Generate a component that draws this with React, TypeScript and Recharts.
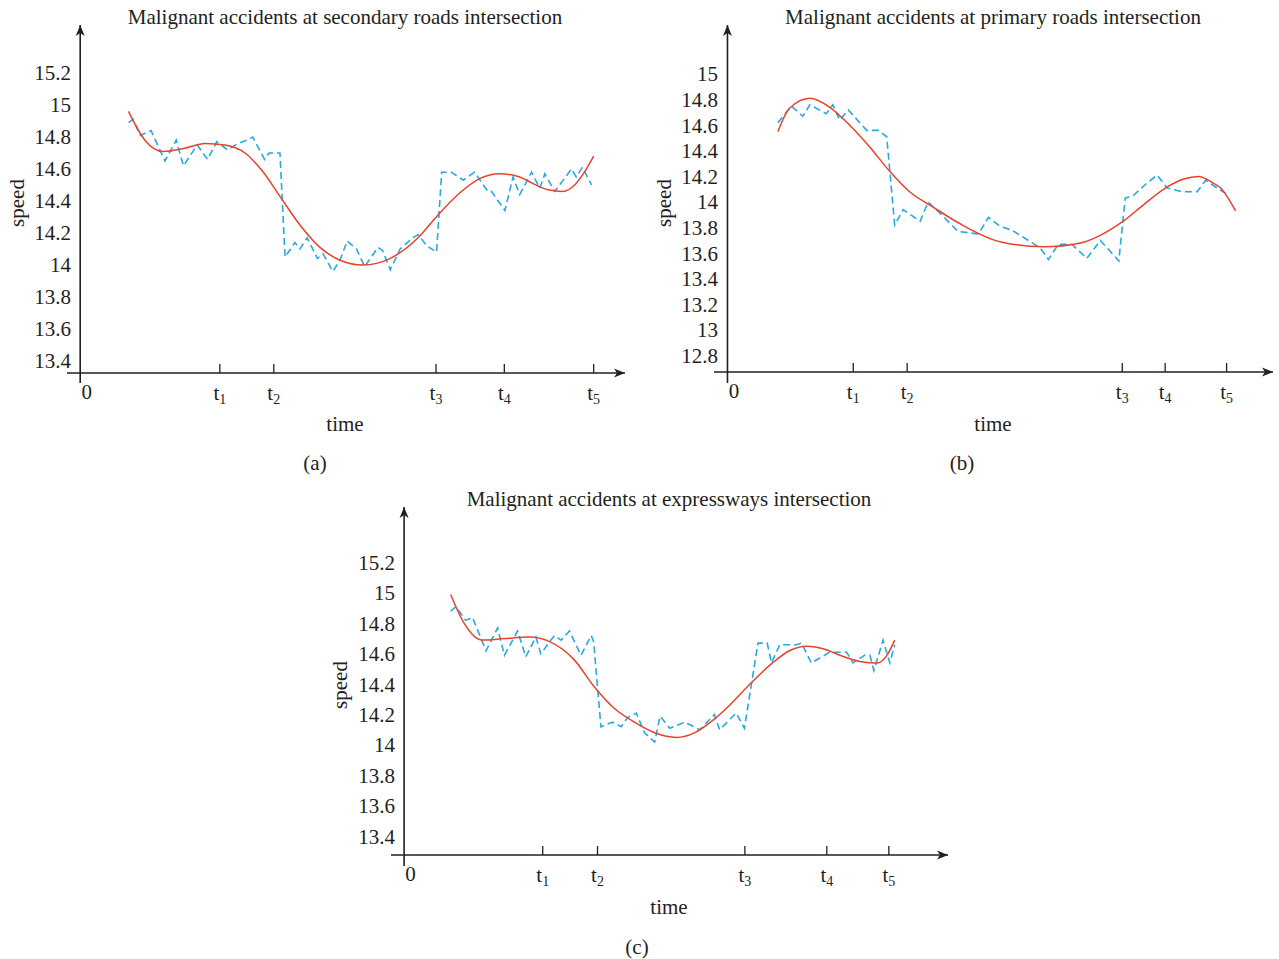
import React from "react";
import { LineChart, Line, XAxis, YAxis, ReferenceLine, ReferenceDot } from "recharts";

const INK = "#231f20";
const BLUE = "#27a9e1";
const RED = "#e8412c";
const FONT = '"Liberation Serif", "Times New Roman", serif';

// shared x tick labels (0, t1 ... t5)
const xTickLabels = ["0", "1", "2", "3", "4", "5"];

// (a) secondary roads
const aTitle = "Malignant accidents at secondary roads intersection";
const aXTicks = [0, 27.2, 37.7, 69.3, 82.6, 100];
const aYTicks = [13.4, 13.6, 13.8, 14, 14.2, 14.4, 14.6, 14.8, 15, 15.2];
const aNoisyTime = [9.4, 10.3, 11.7, 13.8, 16.5, 18.7, 20.1, 22.8, 24.8, 26.6, 28.7, 30.8, 32.4, 33.6, 35.9, 36.8, 38.9, 39.9, 41.8, 42.8, 44.2, 46.2, 47.3, 49.2, 50.6, 52.0, 53.8, 55.4, 58.0, 58.9, 60.4, 62.3, 64.8, 65.8, 67.5, 69.4, 70.4, 72.3, 74.6, 76.8, 79.4, 80.1, 82.7, 84.3, 85.6, 87.9, 89.5, 90.5, 92.4, 95.7, 96.6, 97.8, 99.6];
const aNoisySpeed = [14.89, 14.91, 14.81, 14.84, 14.65, 14.78, 14.62, 14.75, 14.66, 14.77, 14.72, 14.76, 14.78, 14.8, 14.66, 14.7, 14.7, 14.05, 14.14, 14.1, 14.17, 14.04, 14.07, 13.96, 14.03, 14.15, 14.1, 13.99, 14.11, 14.09, 13.97, 14.1, 14.17, 14.19, 14.12, 14.08, 14.58, 14.58, 14.53, 14.58, 14.46, 14.46, 14.34, 14.55, 14.44, 14.58, 14.48, 14.57, 14.46, 14.6, 14.55, 14.61, 14.5];
const aFitTime = [9.4, 12.6, 16.1, 20.4, 24.3, 28.2, 32.1, 35.4, 39.3, 42.8, 46.7, 50.6, 55.1, 60.3, 65.8, 69.6, 73.9, 77.8, 81.7, 85.6, 88.1, 91.1, 94.0, 96.3, 98.2, 100];
const aFitSpeed = [14.96, 14.78, 14.71, 14.73, 14.76, 14.75, 14.7, 14.59, 14.41, 14.25, 14.11, 14.03, 14.0, 14.04, 14.17, 14.31, 14.45, 14.54, 14.57, 14.55, 14.51, 14.47, 14.46, 14.5, 14.58, 14.68];

// (b) primary roads
const bTitle = "Malignant accidents at primary roads intersection";
const bXTicks = [0, 25.2, 36.0, 79.1, 87.7, 100];
const bYTicks = [12.8, 13, 13.2, 13.4, 13.6, 13.8, 14, 14.2, 14.4, 14.6, 14.8, 15];
const bNoisyTime = [10.1, 12.8, 15.1, 16.5, 19.8, 21.1, 22.5, 24.2, 27.9, 30.2, 31.9, 33.5, 35.2, 38.6, 40.2, 42.9, 46.2, 50.3, 52.3, 54.6, 57.0, 62.7, 64.3, 66.3, 69.0, 72.0, 74.7, 78.4, 79.7, 81.3, 84.1, 86.1, 88.1, 91.1, 94.1, 95.8, 98.1, 100.5];
const bNoisySpeed = [14.62, 14.75, 14.67, 14.76, 14.69, 14.76, 14.64, 14.72, 14.56, 14.56, 14.51, 13.82, 13.94, 13.85, 14.0, 13.9, 13.77, 13.75, 13.88, 13.81, 13.78, 13.64, 13.55, 13.67, 13.67, 13.56, 13.7, 13.54, 14.03, 14.05, 14.15, 14.21, 14.11, 14.08, 14.08, 14.17, 14.11, 14.05];
const bFitTime = [10.1, 12.4, 16.5, 20.5, 24.5, 28.5, 32.5, 36.5, 41.2, 46.6, 54.6, 63.3, 70.7, 74.7, 79.3, 83.7, 88.2, 91.4, 94.4, 97.2, 98.8, 101.8];
const bFitSpeed = [14.55, 14.73, 14.81, 14.74, 14.6, 14.43, 14.24, 14.08, 13.96, 13.83, 13.69, 13.65, 13.68, 13.74, 13.85, 13.99, 14.12, 14.18, 14.2, 14.15, 14.11, 13.93];

// (c) expressways
const cTitle = "Malignant accidents at expressways intersection";
const cXTicks = [0, 28.6, 39.9, 70.3, 87.2, 100];
const cYTicks = [13.4, 13.6, 13.8, 14, 14.2, 14.4, 14.6, 14.8, 15, 15.2];
const cNoisyTime = [9.6, 10.7, 12.7, 14.1, 16.9, 19.3, 20.7, 23.4, 25.1, 27.2, 28.2, 31.0, 32.4, 34.1, 36.5, 38.6, 39.1, 40.6, 43.0, 44.8, 46.1, 47.9, 49.6, 51.7, 52.8, 54.8, 57.9, 61.0, 64.0, 65.1, 68.5, 70.2, 73.0, 74.9, 75.8, 77.5, 80.9, 82.0, 84.0, 87.8, 91.3, 92.6, 95.0, 96.1, 96.9, 98.8, 100.2, 101.2];
const cNoisySpeed = [14.88, 14.91, 14.82, 14.84, 14.62, 14.77, 14.59, 14.75, 14.58, 14.71, 14.6, 14.72, 14.69, 14.75, 14.59, 14.72, 14.68, 14.12, 14.15, 14.12, 14.18, 14.21, 14.08, 14.02, 14.19, 14.11, 14.15, 14.1, 14.2, 14.1, 14.21, 14.11, 14.67, 14.67, 14.54, 14.66, 14.66, 14.67, 14.54, 14.61, 14.61, 14.54, 14.59, 14.59, 14.49, 14.69, 14.54, 14.66];
const cFitTime = [9.6, 12.4, 16.1, 20.7, 25.8, 30.0, 35.1, 39.3, 43.4, 47.5, 51.7, 56.2, 59.9, 63.6, 67.1, 70.7, 76.0, 79.5, 83.1, 86.8, 89.9, 94.0, 97.7, 99.8, 101.2];
const cFitSpeed = [14.99, 14.8, 14.69, 14.7, 14.71, 14.68, 14.56, 14.38, 14.24, 14.15, 14.08, 14.05, 14.08, 14.16, 14.26, 14.38, 14.54, 14.62, 14.65, 14.63, 14.59, 14.55, 14.54, 14.6, 14.69];

const zip = (t: number[], v: number[]) => t.map((time, i) => ({ time, speed: v[i] }));

type PanelProps = {
  left: number;
  top: number;
  width: number;
  height: number;
  margin: { top: number; right: number; bottom: number; left: number };
  yAxisWidth: number;
  xDomain: [number, number];
  yDomain: [number, number];
  yLineBottom: number;
  xTicks: number[];
  yTicks: number[];
  noisy: { time: number; speed: number }[];
  fit: { time: number; speed: number }[];
};

const XTick = (props: any) => {
  const { x, y, index } = props;
  const label = xTickLabels[index];
  if (label === "0") {
    return (
      <text x={x + 6.5} y={y + 26} textAnchor="middle" fontSize={21} fontFamily={FONT} fill={INK}>
        0
      </text>
    );
  }
  return (
    <g>
      <line x1={x} x2={x} y1={y - 9} y2={y} stroke={INK} strokeWidth={1.3} />
      <text x={x} y={y + 27} textAnchor="middle" fontSize={21} fontFamily={FONT} fill={INK}>
        t
        <tspan fontSize={14} dy={4}>
          {label}
        </tspan>
      </text>
    </g>
  );
};

const YTick = (props: any) => {
  const { x, y, payload } = props;
  return (
    <text x={x + 4} y={y} dy="0.35em" textAnchor="end" fontSize={21} fontFamily={FONT} fill={INK}>
      {String(payload.value)}
    </text>
  );
};

const arrowRight = (p: any) => (
  <polygon points={`${p.cx},${p.cy} ${p.cx - 11},${p.cy - 4.5} ${p.cx - 8},${p.cy} ${p.cx - 11},${p.cy + 4.5}`} fill={INK} />
);
const arrowUp = (p: any) => (
  <polygon points={`${p.cx},${p.cy} ${p.cx - 4.5},${p.cy + 11} ${p.cx},${p.cy + 8} ${p.cx + 4.5},${p.cy + 11}`} fill={INK} />
);

const Panel = (p: PanelProps) => (
  <div style={{ position: "absolute", left: p.left, top: p.top }}>
    <LineChart width={p.width} height={p.height} margin={p.margin}>
      <XAxis
        type="number"
        dataKey="time"
        domain={p.xDomain}
        allowDataOverflow
        ticks={p.xTicks}
        interval={0}
        tick={<XTick />}
        tickLine={false}
        tickSize={0}
        tickMargin={0}
        height={30}
        axisLine={{ stroke: INK, strokeWidth: 1.6 }}
      />
      <YAxis
        type="number"
        dataKey="speed"
        domain={p.yDomain}
        allowDataOverflow
        ticks={p.yTicks}
        interval={0}
        tick={<YTick />}
        tickLine={false}
        axisLine={false}
        tickSize={0}
        tickMargin={0}
        width={p.yAxisWidth}
      />
      <ReferenceLine
        segment={[
          { x: 0, y: p.yLineBottom },
          { x: 0, y: p.yDomain[1] },
        ]}
        stroke={INK}
        strokeWidth={1.6}
        ifOverflow="visible"
      />
      <ReferenceDot x={p.xDomain[1]} y={p.yDomain[0]} ifOverflow="visible" shape={arrowRight} />
      <ReferenceDot x={0} y={p.yDomain[1]} ifOverflow="visible" shape={arrowUp} />
      <Line
        data={p.noisy}
        dataKey="speed"
        type="linear"
        stroke={BLUE}
        strokeWidth={1.6}
        strokeDasharray="7 4"
        dot={false}
        activeDot={false}
        isAnimationActive={false}
      />
      <Line
        data={p.fit}
        dataKey="speed"
        type="monotone"
        stroke={RED}
        strokeWidth={1.5}
        dot={false}
        activeDot={false}
        isAnimationActive={false}
      />
    </LineChart>
  </div>
);

const Txt = ({ x, y, children, size = 21, rotate = false }: any) => (
  <div
    style={{
      position: "absolute",
      left: x,
      top: y,
      transform: `translate(-50%, -50%)${rotate ? " rotate(-90deg)" : ""}`,
      whiteSpace: "nowrap",
      fontFamily: FONT,
      fontSize: size,
      color: INK,
      lineHeight: 1,
    }}
  >
    {children}
  </div>
);

export default function App() {
  return (
    <div style={{ position: "absolute", left: 0, top: 0, width: 1279, height: 959, background: "#fff", overflow: "hidden" }}>
      <Panel
        left={0}
        top={0}
        width={640}
        height={410}
        margin={{ top: 25, right: 15, bottom: 7, left: 0 }}
        yAxisWidth={67}
        xDomain={[-2.57, 106.1]}
        yDomain={[13.325, 15.5]}
        yLineBottom={13.2625}
        xTicks={aXTicks}
        yTicks={aYTicks}
        noisy={zip(aNoisyTime, aNoisySpeed)}
        fit={zip(aFitTime, aFitSpeed)}
      />
      <Panel
        left={640}
        top={0}
        width={639}
        height={410}
        margin={{ top: 25, right: 6, bottom: 8, left: 0 }}
        yAxisWidth={74}
        xDomain={[-2.7, 109.3]}
        yDomain={[12.672, 15.383]}
        yLineBottom={12.586}
        xTicks={bXTicks}
        yTicks={bYTicks}
        noisy={zip(bNoisyTime, bNoisySpeed)}
        fit={zip(bFitTime, bFitSpeed)}
      />
      <Panel
        left={320}
        top={480}
        width={640}
        height={420}
        margin={{ top: 27, right: 12, bottom: 15, left: 0 }}
        yAxisWidth={71}
        xDomain={[-2.7, 112.2]}
        yDomain={[13.276, 15.566]}
        yLineBottom={13.204}
        xTicks={cXTicks}
        yTicks={cYTicks}
        noisy={zip(cNoisyTime, cNoisySpeed)}
        fit={zip(cFitTime, cFitSpeed)}
      />

      <Txt x={345} y={17}>{aTitle}</Txt>
      <Txt x={993} y={17}>{bTitle}</Txt>
      <Txt x={669} y={499}>{cTitle}</Txt>

      <Txt x={17} y={203} rotate>speed</Txt>
      <Txt x={664} y={203} rotate>speed</Txt>
      <Txt x={340} y={685} rotate>speed</Txt>

      <Txt x={345} y={424}>time</Txt>
      <Txt x={993} y={424}>time</Txt>
      <Txt x={669} y={907}>time</Txt>

      <Txt x={315} y={463}>(a)</Txt>
      <Txt x={962} y={463}>(b)</Txt>
      <Txt x={637} y={947}>(c)</Txt>
    </div>
  );
}
